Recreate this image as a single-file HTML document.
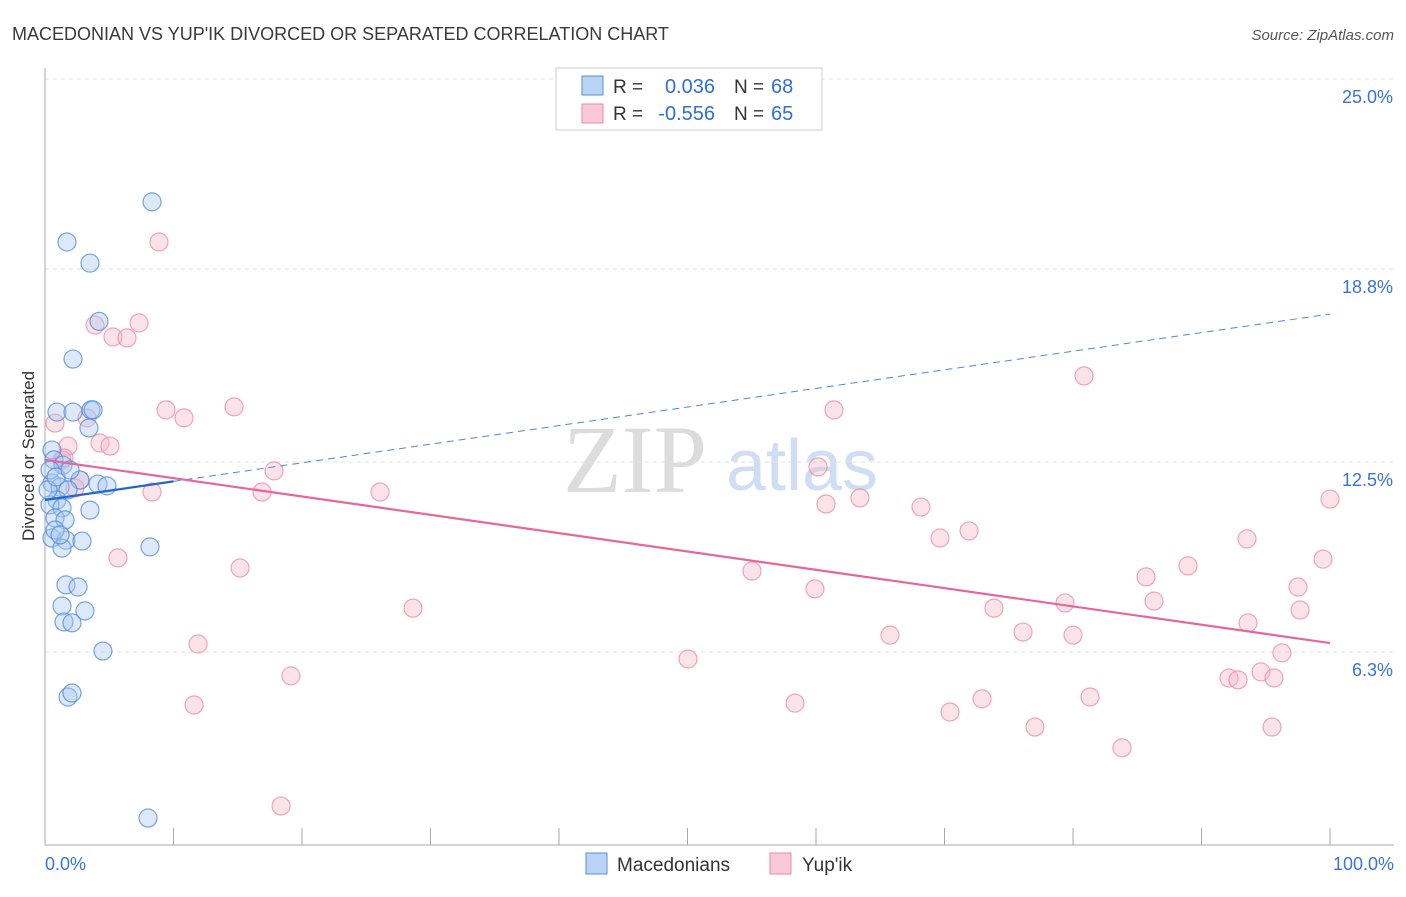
<!DOCTYPE html>
<html><head><meta charset="utf-8"><style>
body{margin:0;background:#fff;font-family:"Liberation Sans",sans-serif}
</style></head><body>
<svg id="c" width="1406" height="892" xmlns="http://www.w3.org/2000/svg"></svg>
<script>
const blueX=[8.33,1.71,3.50,4.20,2.18,0.93,2.18,3.58,3.74,3.42,0.54,0.70,1.40,2.72,4.12,4.82,0.54,1.17,1.79,0.93,0.39,1.32,3.50,0.78,1.56,0.54,1.63,2.88,1.32,8.17,1.63,2.57,1.32,3.11,1.48,2.10,4.51,1.79,2.10,8.02,0.39,0.23,0.78,1.17,0.86,1.95];
const blueY=[20.99,19.68,18.99,17.09,15.86,14.13,14.13,14.2,14.2,13.61,12.89,12.57,12.40,11.91,11.78,11.72,11.81,11.68,11.59,11.26,11.10,11.0,10.93,10.67,10.61,10.02,9.95,9.92,9.69,9.73,8.49,8.42,7.80,7.64,7.28,7.25,6.33,4.83,4.96,0.88,12.24,11.59,10.28,10.12,12.01,12.24];
const pinkX=[8.87,3.89,7.32,5.29,6.38,9.42,10.82,14.71,0.78,3.27,1.79,4.28,5.06,1.32,1.48,2.72,17.82,8.33,16.89,26.07,5.68,15.18,28.64,11.91,19.14,11.6,18.37,50.04,55.02,58.37,59.92,60.16,61.4,60.78,63.42,65.76,68.17,69.65,70.43,71.91,72.92,73.85,76.11,77.04,79.38,80.0,80.86,81.32,83.81,85.68,86.3,88.95,92.14,92.84,93.54,93.62,94.63,95.49,95.64,96.26,97.51,97.67,99.46,100,2.33];
const pinkY=[19.68,16.97,17.04,16.58,16.55,14.2,13.94,14.30,13.77,13.94,13.02,13.12,13.02,12.57,12.63,11.91,12.21,11.52,11.52,11.52,9.37,9.04,7.73,6.56,5.52,4.57,1.27,6.07,8.94,4.63,8.36,12.34,14.2,11.13,11.33,6.85,11.03,10.02,4.34,10.25,4.77,7.73,6.95,3.85,7.90,6.85,15.31,4.83,3.17,8.75,7.96,9.11,5.45,5.39,9.99,7.25,5.65,3.85,5.45,6.27,8.42,7.67,9.33,11.29,11.65];
const yTicks=[25.0,18.8,12.5,6.3];
const yTickLabels=["25.0%","18.8%","12.5%","6.3%"];
const blueLine=[11.26,17.33];
const pinkLine=[12.57,6.59];
const NS="http://www.w3.org/2000/svg";
const svg=document.getElementById('c');
const sx=v=>45+v*12.85, sy=v=>845-v*30.64;
function el(t,a,p){const e=document.createElementNS(NS,t);for(const k in a)e.setAttribute(k,a[k]);(p||svg).appendChild(e);return e;}
function txt(x,y,s,size,fill,anchor,name){const e=el('text',{x:x,y:y,'font-size':size,fill:fill,'text-anchor':anchor||'start','font-family':'Liberation Sans, sans-serif'});e.textContent=s;

return e;}
txt(12,40,"MACEDONIAN VS YUP'IK DIVORCED OR SEPARATED CORRELATION CHART",18,'#3a3a3a','start','chart-title');
const src=txt(1394,40,"Source: ZipAtlas.com",15,'#555','end','source-label');src.setAttribute('font-style','italic');
const w1=txt(635,492,"ZIP",96,'#dcdcdc','middle','watermark-zip');w1.setAttribute('font-family','Liberation Serif, serif');
txt(802,490,"atlas",72,'#cfdef4','middle','watermark-atlas');
yTicks.forEach((t,i)=>{const g=el('line',{x1:45,x2:1394,y1:sy(t),y2:sy(t),stroke:'#e2e2e2','stroke-dasharray':'4,4'});

txt(1393,sy(t)+24,yTickLabels[i],18,'#3b73d9','end','y-tick-label');});
const ya=el('line',{x1:45,x2:45,y1:68,y2:845,stroke:'#aaa'});
const xa=el('line',{x1:45,x2:1394,y1:845,y2:845,stroke:'#aaa'});
for(let i=1;i<=10;i++){const t=el('line',{x1:sx(i*10),x2:sx(i*10),y1:828,y2:845,stroke:'#aaa'});}
txt(45,870,"0.0%",18,'#3b73d9','start','x-min-label');
txt(1394,870,"100.0%",18,'#3b73d9','end','x-max-label');
const yt=txt(0,0,"Divorced or Separated",17,'#333','middle','y-axis-title');yt.setAttribute('transform','translate(34,456) rotate(-90)');
function pts(X,Y,fill,stroke,name){X.forEach((x,i)=>{const c=el('circle',{cx:sx(x),cy:sy(Y[i]),r:9,fill:fill,'fill-opacity':0.4,stroke:stroke,'stroke-width':1.2,'stroke-opacity':0.75});
});}
pts(pinkX,pinkY,'#f7b8cb','#e98aa8','yupik-point');
pts(blueX,blueY,'#a9c8f0','#4c88da','macedonian-point');
const by=x=>blueLine[0]+(blueLine[1]-blueLine[0])*x/100;
let l=el('line',{x1:sx(10),y1:sy(by(10)),x2:sx(100),y2:sy(by(100)),stroke:'#4c88da','stroke-width':1,'stroke-dasharray':'7,5'});
l=el('line',{x1:sx(0),y1:sy(by(0)),x2:sx(10),y2:sy(by(10)),stroke:'#2166d6','stroke-width':2.2});
l=el('line',{x1:sx(0),y1:sy(pinkLine[0]),x2:sx(100),y2:sy(pinkLine[1]),stroke:'#e6679a','stroke-width':2.2});
const lg=el('rect',{x:556,y:68,width:266,height:62,fill:'#fff',stroke:'#ccc'});
let r=el('rect',{x:582,y:76,width:21,height:19,fill:'#b9d3f5',stroke:'#5b8fd8'});
r=el('rect',{x:582,y:104,width:21,height:19,fill:'#f9c9d7',stroke:'#e98aa8'});
txt(613,93,"R =",19,'#333','start','r-label');txt(715,93,"0.036",20,'#2f6fd6','end','r-value-blue');
txt(734,93,"N =",19,'#333','start','n-label');txt(771,93,"68",20,'#2f6fd6','start','n-value-blue');
txt(613,120,"R =",19,'#333','start','r-label');txt(715,120,"-0.556",20,'#2f6fd6','end','r-value-pink');
txt(734,120,"N =",19,'#333','start','n-label');txt(771,120,"65",20,'#2f6fd6','start','n-value-pink');
r=el('rect',{x:586,y:853,width:21,height:21,fill:'#b9d3f5',stroke:'#5b8fd8'});
txt(617,871,"Macedonians",19,'#333','start','legend-macedonians');
r=el('rect',{x:770,y:853,width:21,height:21,fill:'#f9c9d7',stroke:'#e98aa8'});
txt(802,871,"Yup'ik",19,'#333','start','legend-yupik');
</script>
</body></html>
